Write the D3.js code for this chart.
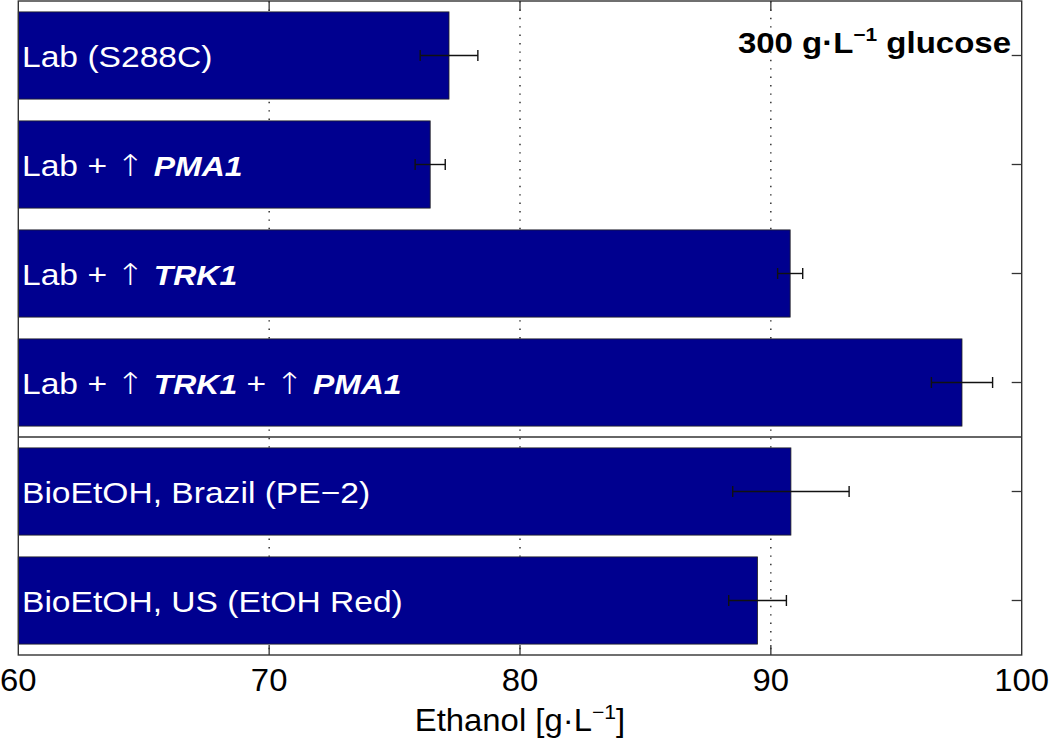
<!DOCTYPE html>
<html><head><meta charset="utf-8">
<script src="https://cdn.jsdelivr.net/npm/d3@7"></script>
<style>body{margin:0;background:#fff}svg{display:block}text{font-family:"Liberation Sans",Arial,sans-serif}</style>
</head><body><svg id="c" width="1050" height="739"></svg>
<script>
const categories = ["Lab (S288C)", "Lab + ↑ PMA1", "Lab + ↑ TRK1", "Lab + ↑ TRK1 + ↑ PMA1", "BioEtOH, Brazil (PE−2)", "BioEtOH, US (EtOH Red)"];
// label pieces: [text, kind] kind 0 = plain, 1 = gene name (bold italic), 2 = arrow
const labelParts = [
  [["Lab (S288C)", 0]],
  [["Lab + ", 0], ["↑", 2], [" ", 0], ["PMA1", 1]],
  [["Lab + ", 0], ["↑", 2], [" ", 0], ["TRK1", 1]],
  [["Lab + ", 0], ["↑", 2], [" ", 0], ["TRK1", 1], [" + ", 0], ["↑", 2], [" ", 0], ["PMA1", 1]],
  [["BioEtOH, Brazil (PE−2)", 0]],
  [["BioEtOH, US (EtOH Red)", 0]]
];
const values = [77.17, 76.42, 90.77, 97.62, 90.80, 89.47];
const errors = [1.15, 0.6, 0.5, 1.22, 2.32, 1.15];
const xTicks = [60, 70, 80, 90, 100];
const xLabel = "Ethanol [g·L";
const title = "300 g·L";

const svg = d3.select("#c");
const L = 18.3, R = 1021.7, T = 1, B = 655;
const x = d3.scaleLinear().domain([60, 100]).range([L, R]);
const y = d3.scaleBand().domain(categories).range([T, B]).paddingInner(0.2).paddingOuter(0.1);
const step = y.step();

// dotted grid
svg.append("g").selectAll("line").data(xTicks.slice(1, -1)).join("line")
  .attr("x1", d => x(d)).attr("x2", d => x(d)).attr("y1", T).attr("y2", B)
  .attr("stroke", "#000").attr("stroke-width", 1.2).attr("stroke-dasharray", "1.4,7");

// separator between lab and industrial strains
svg.append("line").attr("x1", L).attr("x2", R)
  .attr("y1", y(categories[4]) - step * 0.1).attr("y2", y(categories[4]) - step * 0.1)
  .attr("stroke", "#333").attr("stroke-width", 1.3);

// bars
svg.append("g").selectAll("rect").data(values).join("rect")
  .attr("x", x(60)).attr("y", (d, i) => y(categories[i]))
  .attr("width", d => x(d) - x(60)).attr("height", y.bandwidth())
  .attr("fill", "#00008f").attr("stroke", "#222").attr("stroke-width", 0.8);

// error bars
const eg = svg.append("g").attr("stroke", "#111").attr("stroke-width", 1.4);
values.forEach((v, i) => {
  const cy = y(categories[i]) + y.bandwidth() / 2;
  const x0 = x(v - errors[i]), x1 = x(v + errors[i]);
  eg.append("line").attr("x1", x0).attr("x2", x1).attr("y1", cy).attr("y2", cy);
  eg.append("line").attr("x1", x0).attr("x2", x0).attr("y1", cy - 5.5).attr("y2", cy + 5.5);
  eg.append("line").attr("x1", x1).attr("x2", x1).attr("y1", cy - 5.5).attr("y2", cy + 5.5);
});

// labels
labelParts.forEach((parts, i) => {
  const g = svg.append("g")
    .attr("transform", `translate(22,${y(categories[i]) + y.bandwidth() / 2 + 11}) scale(1.12,1)`);
  const t = g.append("text").attr("fill", "#fff").attr("font-size", 30);
  parts.forEach(p => {
    const s = t.append("tspan").text(p[0]);
    if (p[1] === 1) s.attr("font-weight", "bold").attr("font-style", "italic").attr("font-size", 28.5);
    if (p[1] === 2) s.attr("font-family", "DejaVu Sans").attr("font-size", 30).attr("font-weight", 200);
  });
});

// frame
svg.append("rect").attr("x", L).attr("y", T).attr("width", R - L).attr("height", B - T)
  .attr("fill", "none").attr("stroke", "#333").attr("stroke-width", 1.4);

// ticks
const tg = svg.append("g").attr("stroke", "#333").attr("stroke-width", 1.3);
xTicks.slice(1, -1).forEach(d => {
  tg.append("line").attr("x1", x(d)).attr("x2", x(d)).attr("y1", B).attr("y2", B - 10);
  tg.append("line").attr("x1", x(d)).attr("x2", x(d)).attr("y1", T).attr("y2", T + 10);
});
categories.forEach(c => {
  const cy = y(c) + y.bandwidth() / 2;
  tg.append("line").attr("x1", R).attr("x2", R - 10).attr("y1", cy).attr("y2", cy);
});

// x tick labels
svg.append("g").selectAll("g").data(xTicks).join("g")
  .attr("transform", d => `translate(${x(d)},${B + 36}) scale(1.06,1)`)
  .append("text").attr("text-anchor", "middle")
  .attr("font-size", 31).attr("fill", "#000").text(d => d);

// x axis label
const xl = svg.append("g").attr("transform", "translate(520,731) scale(1.06,1)")
  .append("text").attr("text-anchor", "middle").attr("font-size", 31).attr("fill", "#000");
xl.append("tspan").text(xLabel);
xl.append("tspan").attr("dy", -12).attr("font-size", 20).text("−1");
xl.append("tspan").attr("dy", 12).text("]");

// annotation
const tt = svg.append("g").attr("transform", "translate(1011,53) scale(1.1,1)")
  .append("text").attr("text-anchor", "end")
  .attr("font-size", 30).attr("font-weight", "bold").attr("fill", "#000");
tt.append("tspan").text(title);
tt.append("tspan").attr("dy", -12).attr("font-size", 19).text("−1");
tt.append("tspan").attr("dy", 12).text(" glucose");
</script></body></html>
